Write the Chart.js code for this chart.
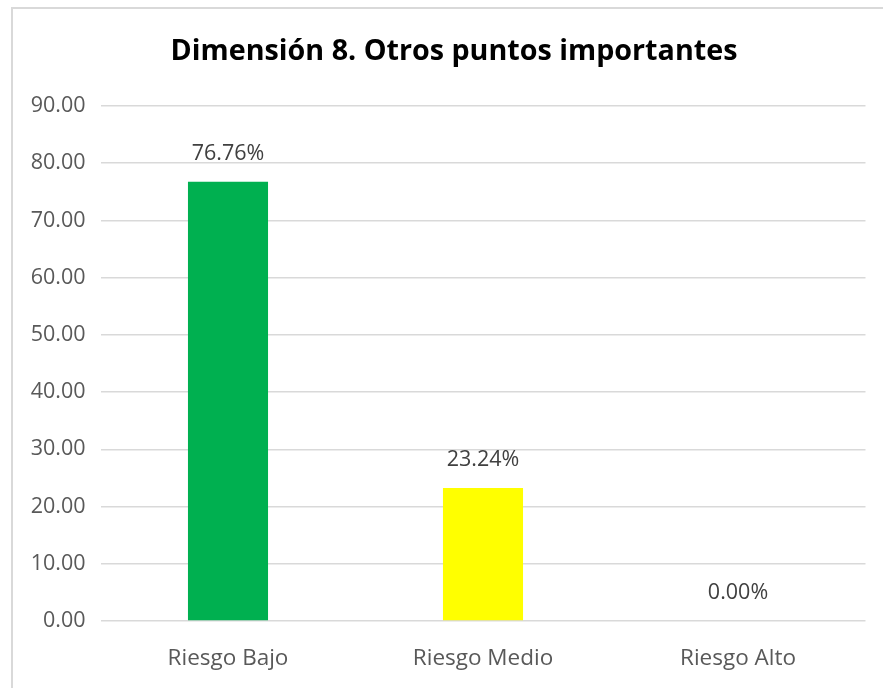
<!DOCTYPE html>
<html lang="es">
<head>
    <meta charset="UTF-8">
    <title>Dimensión 8. Otros puntos importantes</title>
    <script src="https://cdn.jsdelivr.net/npm/chart.js"></script>
    <style>
        body {
            margin: 0;
            background: #fff;
            overflow: hidden;
        }
        .chart-box {
            position: absolute;
            left: 11px;
            top: 7px;
            width: 890px;
            height: 690px;
            border: 2px solid #d9d9d9;
            background: #fff;
        }
    </style>
</head>
<body>

    <div class="chart-box">
        <canvas id="riesgoChart" width="890" height="690"></canvas>
    </div>

    <script>
        const titulo = 'Dimensión 8. Otros puntos importantes';
        const categorias = ['Riesgo Bajo', 'Riesgo Medio', 'Riesgo Alto'];
        const porcentajes = [76.76, 23.24, 0.00];
        const colores = ['#00b050', '#ffff00', '#a5a5a5'];
        const yTicks = [0, 10, 20, 30, 40, 50, 60, 70, 80, 90];

        const fuente = "'Open Sans', 'Liberation Sans', sans-serif";

        // title centred over the whole chart box, plus percentage labels above each bar
        const etiquetas = {
            id: 'etiquetas',
            afterDatasetsDraw(chart) {
                const ctx = chart.ctx;
                const meta = chart.getDatasetMeta(0);
                ctx.save();
                ctx.textAlign = 'center';
                ctx.textBaseline = 'middle';

                ctx.font = 'bold 28.7px ' + fuente;
                ctx.fillStyle = '#000';
                ctx.fillText(titulo, 441, 43);

                ctx.font = '21.5px ' + fuente;
                ctx.fillStyle = '#404040';
                meta.data.forEach((bar, i) => {
                    ctx.fillText(porcentajes[i].toFixed(2) + '%', bar.x, bar.y - 28);
                });
                ctx.restore();
            }
        };

        const ctx = document.getElementById('riesgoChart').getContext('2d');
        new Chart(ctx, {
            type: 'bar',
            data: {
                labels: categorias,
                datasets: [{
                    data: porcentajes,
                    backgroundColor: colores,
                    borderWidth: 0,
                    categoryPercentage: 1,
                    barPercentage: 0.314
                }]
            },
            options: {
                responsive: false,
                animation: false,
                layout: { padding: { left: 0, right: 37.5, top: 97, bottom: 0 } },
                plugins: {
                    legend: { display: false },
                    tooltip: { enabled: false },
                    title: { display: false }
                },
                scales: {
                    x: {
                        grid: { display: false },
                        border: { display: false },
                        ticks: {
                            color: '#595959',
                            font: { family: fuente, size: 22.5 },
                            padding: 16
                        },
                        afterFit(scale) { scale.height = 78; }
                    },
                    y: {
                        min: 0,
                        max: 90,
                        afterBuildTicks(scale) {
                            scale.ticks = yTicks.map(v => ({ value: v }));
                        },
                        grid: { color: '#d9d9d9', lineWidth: 1.5, drawTicks: false },
                        border: { display: false },
                        ticks: {
                            color: '#595959',
                            font: { family: fuente, size: 21.5 },
                            padding: 15,
                            callback: v => v.toFixed(2)
                        },
                        afterFit(scale) { scale.width = 87.5; }
                    }
                }
            },
            plugins: [etiquetas]
        });
    </script>

</body>
</html>
